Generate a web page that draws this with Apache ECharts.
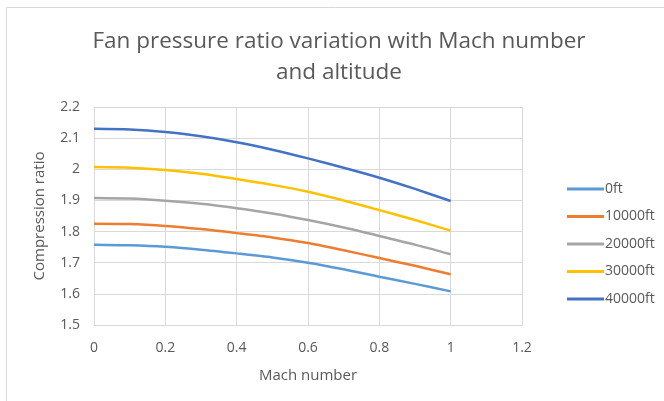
<!DOCTYPE html>
<html>
<head>
<meta charset="utf-8">
<script src="https://cdn.jsdelivr.net/npm/echarts@6/dist/echarts.min.js"></script>
<style>
  html, body { margin: 0; padding: 0; background: #fff; }
  #chart { width: 664px; height: 401px; }
</style>
</head>
<body>
<div id="chart"></div>
<script>
// data
const mach = [0, 0.1, 0.2, 0.3, 0.4, 0.5, 0.6, 0.7, 0.8, 0.9, 1]
const seriesNames = ['0ft', '10000ft', '20000ft', '30000ft', '40000ft']
const ratio0ft = [1.758, 1.756, 1.751, 1.742, 1.730, 1.717, 1.700, 1.679, 1.655, 1.632, 1.608]
const ratio10000ft = [1.825, 1.824, 1.818, 1.808, 1.795, 1.781, 1.763, 1.740, 1.715, 1.690, 1.663]
const ratio20000ft = [1.908, 1.906, 1.899, 1.889, 1.875, 1.858, 1.837, 1.813, 1.786, 1.758, 1.727]
const ratio30000ft = [2.007, 2.005, 1.998, 1.986, 1.969, 1.950, 1.928, 1.900, 1.869, 1.837, 1.803]
const ratio40000ft = [2.130, 2.128, 2.120, 2.106, 2.087, 2.063, 2.035, 2.005, 1.973, 1.937, 1.898]
const colors = ['#5B9BD5', '#ED7D31', '#A5A5A5', '#FFC000', '#4472C4']

const allValues = [ratio0ft, ratio10000ft, ratio20000ft, ratio30000ft, ratio40000ft]
const font = '"Open Sans", sans-serif'
const textColor = '#595959'
const gridColor = '#d9d9d9'

const chart = echarts.init(document.getElementById('chart'))

const option = {
  animation: false,
  color: colors,
  graphic: [{
    type: 'rect',
    shape: { x: 6.5, y: 7.5, width: 700, height: 500 },
    style: { fill: 'none', stroke: gridColor, lineWidth: 1 },
    silent: true
  }],
  title: {
    text: 'Fan pressure ratio variation with Mach number\nand altitude',
    left: 334,
    top: 21,
    textAlign: 'center',
    textStyle: {
      fontFamily: font,
      fontSize: 22.5,
      fontWeight: 'normal',
      color: textColor,
      lineHeight: 31
    }
  },
  legend: {
    orient: 'vertical',
    left: 562,
    top: 177,
    itemWidth: 37,
    itemHeight: 3,
    itemGap: 13.5,
    icon: 'rect',
    data: seriesNames,
    textStyle: { fontFamily: font, fontSize: 14, color: textColor, padding: [0, 0, 0, -4] }
  },
  grid: { left: 94, right: 142, top: 107, bottom: 76 },
  xAxis: {
    type: 'value',
    min: 0,
    max: 1.2,
    interval: 0.2,
    name: 'Mach number',
    nameLocation: 'middle',
    nameGap: 43,
    nameTextStyle: { fontFamily: font, fontSize: 15, color: textColor },
    axisLine: { show: true, lineStyle: { color: gridColor } },
    axisTick: { show: false },
    axisLabel: { fontFamily: font, fontSize: 14, color: textColor, margin: 16 },
    splitLine: { show: true, lineStyle: { color: gridColor } }
  },
  yAxis: {
    type: 'value',
    min: 1.5,
    max: 2.2,
    interval: 0.1,
    name: 'Compression ratio',
    nameLocation: 'middle',
    nameGap: 47,
    nameTextStyle: { fontFamily: font, fontSize: 15, color: textColor },
    axisLine: { show: true, lineStyle: { color: gridColor } },
    axisTick: { show: false },
    axisLabel: {
      fontFamily: font, fontSize: 14, color: textColor, margin: 14,
      formatter: v => String(Math.round(v * 10) / 10)
    },
    splitLine: { show: true, lineStyle: { color: gridColor } }
  },
  series: seriesNames.map((name, i) => ({
    name,
    type: 'line',
    smooth: 0.25,
    showSymbol: false,
    lineStyle: { width: 2.5 },
    data: mach.map((m, j) => [m, allValues[i][j]])
  }))
}

chart.setOption(option)
</script>
</body>
</html>
